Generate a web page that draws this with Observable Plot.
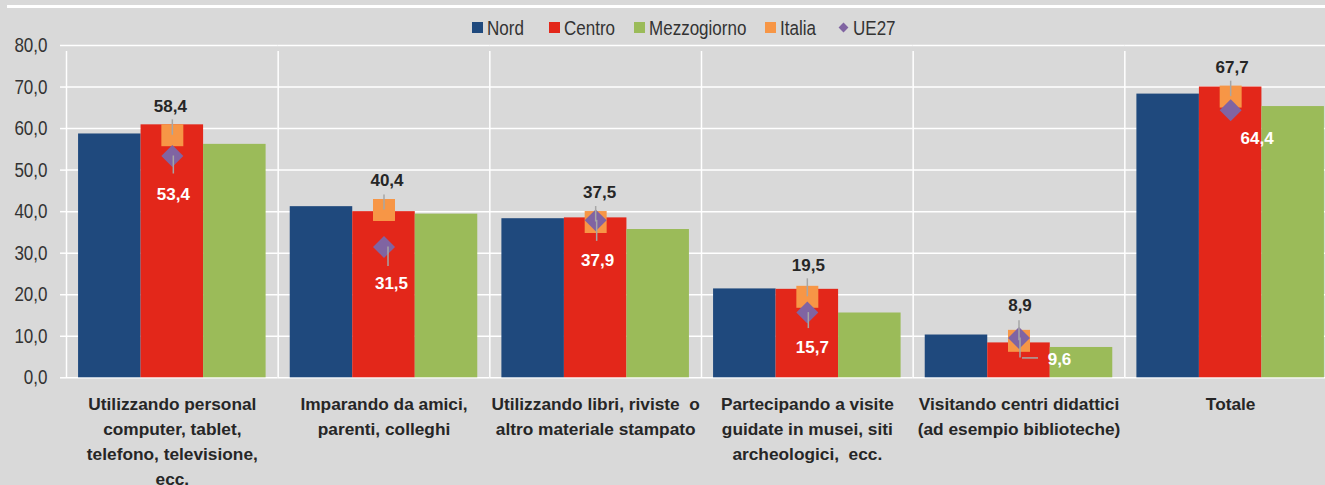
<!DOCTYPE html>
<html><head><meta charset="utf-8">
<script src="https://cdn.jsdelivr.net/npm/d3@7"></script>
<script src="https://cdn.jsdelivr.net/npm/@observablehq/plot@0.6"></script>
<style>
html,body{margin:0;padding:0;background:#d9d9d9;overflow:hidden;}
#top{position:relative;height:40px;width:1325px;}
#topline{position:absolute;left:7px;right:0;top:4.5px;height:3px;background:#fff;}
#legend{position:absolute;left:472px;top:16px;height:23px;display:flex;align-items:center;white-space:nowrap;color:#333;}
.item{display:flex;align-items:center;}
.sw{width:11px;height:11px;margin-right:4px;display:inline-block;flex:none;}
.dia{width:7px;height:7px;transform:rotate(45deg);margin:0 6px 0 2px;display:inline-block;flex:none;}
.txt{display:inline-block;transform-origin:0 50%;}
svg{overflow:visible;}
</style></head><body>
<div id="top"><div id="topline"></div><div id="legend"></div></div>
<div id="chart"></div>
<script>
// ---- data ----
const categories = [
  "Utilizzando personal computer, tablet, telefono, televisione, ecc.",
  "Imparando da amici, parenti, colleghi",
  "Utilizzando libri, riviste o altro materiale stampato",
  "Partecipando a visite guidate in musei, siti archeologici, ecc.",
  "Visitando centri didattici (ad esempio biblioteche)",
  "Totale"
];
const categoryLabels = [
  "Utilizzando personal\ncomputer, tablet,\ntelefono, televisione,\necc.",
  "Imparando da amici,\nparenti, colleghi",
  "Utilizzando libri, riviste  o\naltro materiale stampato",
  "Partecipando a visite\nguidate in musei, siti\narcheologici,  ecc.",
  "Visitando centri didattici\n(ad esempio biblioteche)",
  "Totale"
];
const regions = ["Nord", "Centro", "Mezzogiorno"];
const nord        = [58.7, 41.2, 38.3, 21.4, 10.3, 68.3];
const centro      = [60.9, 40.0, 38.5, 21.3,  8.4, 70.0];
const mezzogiorno = [56.2, 39.4, 35.7, 15.6,  7.3, 65.3];
const italia      = [58.4, 40.4, 37.5, 19.5,  8.9, 67.7];
const ue27        = [53.4, 31.5, 37.9, 15.7,  9.6, 64.4];
const yTicks = [0, 10, 20, 30, 40, 50, 60, 70, 80];
const legendNames = ["Nord", "Centro", "Mezzogiorno", "Italia", "UE27"];

// ---- layout / style (not data) ----
const colors = ["#1f497d", "#e3271a", "#9bbb59", "#f79646", "#8064a2"];
const legendGaps = [25, 19, 19, 22, 0];
const italiaNudge = [[-2, -29], [3, -29], [4, -29], [1, -31], [1, -35], [1.5, -29.4]];
const ue27Nudge   = [[1, 38.5], [7.5, 36.6], [2, 40], [5, 35], [40.5, 22], [26.5, 28.5]];
const italiaLeader = [15.4, 15, 15.5, 18, 20, 15.4];
const ue27Leader   = [18, 19.6, 21, 16, 20, 0];

function hasFont(f) {
  const c = document.createElement("canvas").getContext("2d");
  const s = "Mezzogiorno 80,0 WWiill";
  c.font = "20px monospace"; const a = c.measureText(s).width;
  c.font = `20px '${f}', monospace`; const b = c.measureText(s).width;
  return a !== b;
}
const narrow = hasFont("Liberation Sans Narrow");
const regFont = narrow ? "'Liberation Sans Narrow', sans-serif" : "'Liberation Sans', Arial, sans-serif";
const regSize = narrow ? 21 : 20.5;
const squeeze = narrow ? 1 : 0.83;

// legend
const leg = document.getElementById("legend");
leg.style.fontFamily = regFont;
leg.style.fontSize = regSize + "px";
legendNames.forEach((n, i) => {
  const it = document.createElement("span");
  it.className = "item";
  it.style.marginRight = legendGaps[i] + "px";
  const sw = document.createElement("span");
  sw.className = i === 4 ? "dia" : "sw";
  sw.style.background = colors[i];
  it.appendChild(sw);
  const t = document.createElement("span");
  t.className = "txt";
  t.textContent = n;
  it.appendChild(t);
  leg.appendChild(it);
  if (squeeze !== 1) {
    const w = t.getBoundingClientRect().width;
    t.style.transform = `scaleX(${squeeze})`;
    t.style.marginRight = (-(1 - squeeze) * w) + "px";
  }
});

const fmt = v => v.toFixed(1).replace(".", ",");
const series = [nord, centro, mezzogiorno];
const bars = categories.flatMap((c, i) => regions.map((r, j) => ({cat: c, region: r, value: series[j][i]})));
const italiaRows = categories.map((c, i) => ({cat: c, value: italia[i]}));
const ueRows = categories.map((c, i) => ({cat: c, value: ue27[i]}));

const W = 1325, H = 445, ML = 66, MR = -11, MT = 5, MB = 107.7;
const PO = 0.193;
const FW = (W - ML - MR) / categories.length;
const BW = FW / (regions.length + 2 * PO);
const sepDx = -(PO * BW + BW / 2);
const centre = () => "Centro";

const marks = [
  Plot.ruleY(yTicks, {y: d => d, stroke: "white", strokeWidth: 1.5}),
  Plot.ruleX(categories, {fx: d => d, x: () => "Nord", y1: 0, y2: 80, insetBottom: -6, dx: sepDx, stroke: "white", strokeWidth: 1.5}),
  Plot.barY(bars, {fx: "cat", x: "region", y: "value", fill: "region"}),
  Plot.dot(italiaRows, {fx: "cat", x: centre, y: "value", symbol: "square", r: 12.4, fill: colors[3], stroke: null}),
  Plot.dot(ueRows, {fx: "cat", x: centre, y: "value", symbol: "diamond2", r: 9.9, fill: colors[4], stroke: null}),
  ...categories.map((c, i) => Plot.ruleX([italiaRows[i]], {fx: "cat", x: centre, y1: "value", y2: "value", insetTop: -italiaLeader[i], insetBottom: 0, stroke: "#a6a6a6", strokeWidth: 1.5})),
  ...categories.map((c, i) => ue27Leader[i] ? Plot.ruleX([ueRows[i]], {fx: "cat", x: centre, y1: "value", y2: "value", insetTop: 0, insetBottom: -ue27Leader[i], dx: i === 1 ? 4 : 1, stroke: "#a6a6a6", strokeWidth: 1.5}) : null).filter(Boolean),
  Plot.ruleY([ueRows[4]], {fx: "cat", y: "value", x1: centre, x2: centre, insetLeft: BW / 2 + 3.5, insetRight: BW / 2 - 19.5, dy: 20, stroke: "#a6a6a6", strokeWidth: 1.5}),
  ...categories.map((c, i) => Plot.text([italiaRows[i]], {fx: "cat", x: centre, y: "value", text: d => fmt(d.value), dx: italiaNudge[i][0], dy: italiaNudge[i][1], fontWeight: "bold", fontSize: 17, fill: "#262626"})),
  ...categories.map((c, i) => Plot.text([ueRows[i]], {fx: "cat", x: centre, y: "value", text: d => fmt(d.value), dx: ue27Nudge[i][0], dy: ue27Nudge[i][1], fontWeight: "bold", fontSize: 17, fill: "white"})),
  Plot.axisY(yTicks, {tickFormat: fmt, tickSize: 6, tickPadding: 13, stroke: "white", strokeWidth: 1.5, fill: "#333", fontSize: regSize, fontFamily: regFont, label: null, ariaLabel: "y-axis"}),
  Plot.axisFx({anchor: "bottom", tickSize: 0, tickPadding: 15, tickFormat: d => categoryLabels[categories.indexOf(d)], fontWeight: "bold", fontSize: 17.3, lineHeight: 1.44, fill: "#262626", label: null})
];

const chart = Plot.plot({
  width: W, height: H,
  marginLeft: ML, marginRight: MR, marginTop: MT, marginBottom: MB,
  style: {background: "transparent", fontFamily: "'Liberation Sans', Arial, sans-serif", overflow: "visible"},
  fx: {domain: categories, padding: 0, round: false, label: null},
  x: {domain: regions, paddingInner: 0, paddingOuter: PO, round: false, axis: null},
  y: {domain: [0, 80], label: null},
  color: {domain: regions, range: colors.slice(0, 3)},
  marks
});
document.getElementById("chart").appendChild(chart);

// condense the y tick labels to mimic the narrow face of the original
if (squeeze !== 1) {
  chart.querySelectorAll('g[aria-label="y-axis tick label"] text').forEach(t => {
    const tr = t.getAttribute("transform");
    if (tr) t.setAttribute("transform", tr + ` scale(${squeeze},1)`);
    else {
      const x = t.getAttribute("x") || 0, y = t.getAttribute("y") || 0;
      t.removeAttribute("x"); t.removeAttribute("y");
      t.setAttribute("transform", `translate(${x},${y}) scale(${squeeze},1)`);
    }
  });
}
</script>
</body></html>
